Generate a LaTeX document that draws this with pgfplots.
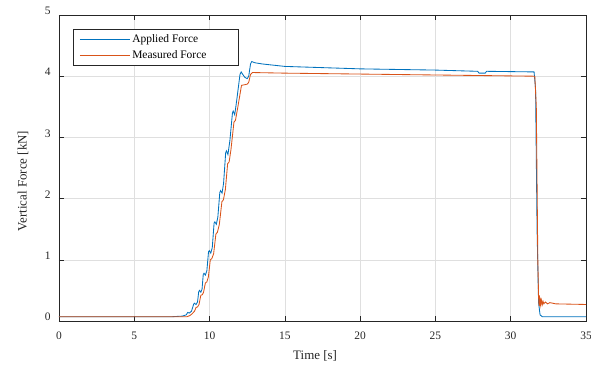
\documentclass[border=0pt]{standalone}
\usepackage{pgfplots}
\pgfplotsset{compat=1.18}
\usepackage{fontspec}
\setmainfont{Liberation Serif}
\definecolor{mblue}{rgb}{0,0.447,0.741}
\definecolor{morange}{rgb}{0.85,0.325,0.098}
\definecolor{axgray}{rgb}{0.15,0.15,0.15}
\begin{document}
\begin{tikzpicture}
\path[use as bounding box] (-59bp,-48bp) rectangle (532bp,321bp);
\begin{axis}[
  at={(0,0)}, anchor=south west,
  scale only axis, width=527bp, height=306bp,
  xmin=0, xmax=35, ymin=0, ymax=5,
  xtick={0,5,...,35}, ytick={0,1,...,5},
  tick align=inside, major tick length=5bp,
  axis line style={axgray, line width=0.6pt},
  tick style={axgray, line width=0.5pt},
  grid=major, grid style={gray!25, line width=0.5pt},
  xlabel={Time [s]}, ylabel={Vertical Force [kN]},
  ticklabel style={font=\fontsize{11.5}{13}\selectfont, text=axgray},
  xticklabel style={anchor=north, yshift=-7bp},
  yticklabel style={anchor=east, xshift=-5bp, yshift=4bp},
  label style={font=\fontsize{13}{15}\selectfont, text=axgray},
  xlabel style={at={(axis description cs:0.486,0)}, anchor=center, yshift=-35bp},
  ylabel style={at={([xshift=-36bp]axis description cs:0,0.457)}, anchor=center},
  /pgf/number format/assume math mode=true,
  legend style={at={(0.027,0.954)}, anchor=north west, draw=axgray, line width=0.6pt,
    font=\fontsize{11.5}{13}\selectfont, inner xsep=6bp, inner ysep=3bp, row sep=3bp},
  legend cell align=left,
  legend image code/.code={\draw[#1, line width=0.8pt] (0bp,0bp) -- (50bp,0bp);},
]
\addplot[mblue, line width=0.85pt] coordinates {
(0,0.07) (7.5,0.07) (8.2,0.08) (8.45,0.1) (8.55,0.14) (8.65,0.13) (8.8,0.16)
(8.95,0.28) (9.0,0.29) (9.1,0.27) (9.2,0.31)
(9.28,0.48) (9.33,0.5) (9.42,0.47) (9.5,0.52)
(9.58,0.76) (9.63,0.78) (9.72,0.75) (9.82,0.82)
(9.93,1.13) (9.98,1.15) (10.08,1.11) (10.18,1.2)
(10.3,1.6) (10.35,1.62) (10.45,1.58) (10.55,1.7)
(10.68,2.1) (10.73,2.13) (10.83,2.09) (10.93,2.25)
(11.07,2.75) (11.12,2.78) (11.22,2.72) (11.35,2.95)
(11.52,3.4) (11.57,3.43) (11.67,3.37) (11.8,3.6)
(12.02,4.03) (12.1,4.07) (12.2,4.03) (12.35,3.98) (12.5,3.96) (12.6,4.0) (12.72,4.2)
(12.8,4.24) (13.0,4.22) (13.5,4.2) (15,4.16) (20,4.12) (25,4.1) (27.8,4.08) (27.9,4.05)
(28.3,4.05) (28.4,4.08) (31.55,4.07) (31.65,3.8) (31.75,1.5) (31.85,0.3) (31.95,0.1)
(32.1,0.07) (35,0.07)
};
\addlegendentry{Applied Force}
\addplot[morange, line width=0.85pt] coordinates {
(0,0.07) (8,0.07) (8.5,0.07) (8.7,0.09) (8.85,0.12) (9.0,0.16)
(9.1,0.22) (9.2,0.23) (9.3,0.27)
(9.42,0.42) (9.52,0.43) (9.6,0.47)
(9.72,0.62) (9.82,0.64) (9.92,0.72)
(10.05,1.0) (10.15,1.02) (10.27,1.1)
(10.42,1.42) (10.52,1.45) (10.65,1.58)
(10.82,1.95) (10.92,1.98) (11.05,2.15)
(11.2,2.57) (11.3,2.6) (11.42,2.8)
(11.62,3.25) (11.72,3.28) (11.88,3.5)
(12.12,3.85) (12.5,3.87) (12.6,3.9) (12.72,4.03) (12.85,4.06)
(15,4.05) (31.6,4.0) (31.7,3.5) (31.8,1.0) (31.85,0.4) (31.88,0.25) (31.9,0.42)
(31.93,0.24) (31.96,0.38) (32.0,0.26) (32.05,0.34) (32.1,0.27) (32.15,0.32) (32.2,0.28)
(32.3,0.31) (32.45,0.28) (32.6,0.3) (33,0.28) (35,0.27)
};
\addlegendentry{Measured Force\hspace*{24bp}\mbox{}}
\end{axis}
\end{tikzpicture}
\end{document}
